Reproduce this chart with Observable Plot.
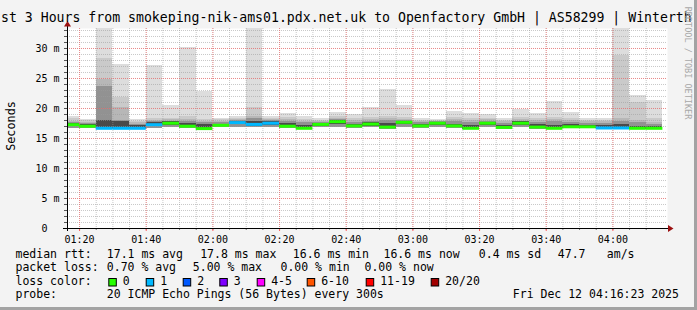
<!DOCTYPE html>
<html><head><meta charset="utf-8">
<script src="https://cdn.jsdelivr.net/npm/d3@7"></script>
<script src="https://cdn.jsdelivr.net/npm/@observablehq/plot@0.6"></script>
<style>
html,body{margin:0;padding:0;background:#f3f3f3;}
#chart{width:697px;height:310px;position:relative;overflow:hidden;background:#f3f3f3;}
</style></head><body><div id="chart"></div>
<script>
// ---------- data ----------
const binStarts = ["01:15","01:20","01:25","01:30","01:35","01:40","01:45","01:50","01:55",
  "02:00","02:05","02:10","02:15","02:20","02:25","02:30","02:35","02:40","02:45","02:50","02:55",
  "03:00","03:05","03:10","03:15","03:20","03:25","03:30","03:35","03:40","03:45","03:50","03:55",
  "04:00","04:05","04:10"];
const median = [17.3,17.05,16.7,16.7,16.7,17.3,17.55,17.05,16.65,17.2,17.65,17.35,17.55,17.05,16.7,17.35,17.8,17.1,
  17.4,16.9,17.7,17.1,17.55,17.1,16.7,17.55,16.85,17.55,16.9,16.7,16.95,16.95,16.75,16.75,16.7,16.7];
const lossCount = [0,0,1,1,1,1,0,0,0,0,1,1,1,0,0,0,0,0,0,0,0,0,0,0,0,0,0,0,0,0,0,0,1,1,0,0];
const pingMax = [18.7,18.2,35,27.3,18.2,27.2,20.5,30.1,22.9,18.4,18.6,35,18.7,19.1,18.7,18.3,19.3,19.0,
  20.1,23.2,20.5,18.4,18.2,19.5,19.1,19.0,18.4,19.8,19.2,21.2,19.3,18.3,18.3,35,22.2,21.3];
const ping19 = [18.3,18.0,28.3,21.9,17.9,18.4,18.4,18.6,18.2,18.1,18.3,20.1,18.4,18.5,18.2,18.0,18.6,18.4,
  18.5,18.7,18.5,18.0,18.0,18.5,18.4,18.4,18.0,18.5,18.4,18.5,18.4,18.0,18.0,28.9,21.0,18.3];
const ping18 = [17.9,17.7,24.8,20.1,17.6,18.0,18.1,18.2,17.9,17.8,18.1,18.6,18.2,18.1,17.9,17.8,18.3,18.0,
  18.1,18.3,18.2,17.8,17.9,18.2,18.0,18.1,17.8,18.2,18.0,18.1,18.0,17.8,17.8,18.3,18.0,17.6];
const ping16 = [17.7,17.5,23.6,18.0,17.4,17.8,17.9,17.9,17.6,17.6,17.95,18.3,18.0,17.8,17.6,17.6,18.1,17.7,
  17.8,18.0,18.0,17.6,17.8,17.9,17.7,17.9,17.5,17.9,17.7,17.8,17.6,17.5,17.5,17.9,17.6,17.3];
const coreHi = [17.5,17.3,18.0,17.9,17.1,17.6,17.75,17.5,17.3,17.4,17.85,17.8,17.8,17.5,17.2,17.5,17.95,17.4,
  17.6,17.5,17.85,17.35,17.7,17.4,17.2,17.7,17.2,17.75,17.3,17.2,17.3,17.2,17.2,17.3,17.0,17.0];
const coreLo = [16.95,16.85,16.6,16.6,16.6,16.95,17.2,16.85,16.55,16.95,17.3,17.0,17.15,16.8,16.55,17.05,17.4,16.85,
  17.05,16.7,17.3,16.85,17.1,16.85,16.55,17.1,16.6,17.1,16.65,16.55,16.7,16.7,16.6,16.6,16.55,16.55];
const pingMin = [16.65,16.65,16.5,16.5,16.5,16.7,16.8,16.65,16.5,16.75,16.8,16.75,16.8,16.6,16.5,16.75,16.85,16.65,
  16.75,16.55,16.8,16.65,16.75,16.65,16.5,16.75,16.5,16.75,16.55,16.5,16.6,16.6,16.5,16.5,16.5,16.5];

const rangeStart = "01:16:23", rangeEnd = "04:16:23";
const yTicks = [0,5,10,15,20,25,30];
const xTickLabels = ["01:20","01:40","02:00","02:20","02:40","03:00","03:20","03:40","04:00"];

const lossLabels = ["0","1","2","3","4-5","6-10","11-19","20/20"];
const lossColors = ["#26ff00","#00b8ff","#0059ff","#7e00ff","#ff00ff","#ff5500","#ff0000","#a10000"];
const rowMedian = ["median rtt:","17.1 ms avg","17.8 ms max","16.6 ms min","16.6 ms now","0.4 ms sd","47.7","am/s"];
const rowLoss = ["packet loss:","0.70 % avg","5.00 % max","0.00 % min","0.00 % now"];
const rowProbe = ["probe:","20 ICMP Echo Pings (56 Bytes) every 300s","Fri Dec 12 04:16:23 2025"];
const titleText = "st 3 Hours from smokeping-nik-ams01.pdx.net.uk to Openfactory GmbH | AS58299 | Winterth";
const yLabel = "Seconds";
const watermark = "RRDTOOL / TOBI OETIKER";

// ---------- build ----------
const toDate = s => { const p = s.split(":").map(Number); return new Date(Date.UTC(2025, 11, 12, p[0], p[1], p[2] || 0)); };
const binMs = 5 * 60 * 1000;
const bins = binStarts.map((s, i) => {
  const t = toDate(s);
  return {start: t, end: new Date(+t + binMs), med: median[i], loss: lossCount[i],
    max: pingMax[i], p19: ping19[i], p18: ping18[i], p16: ping16[i], cHi: coreHi[i], cLo: coreLo[i], min: pingMin[i]};
});
const lossColor = n => n === 0 ? lossColors[0] : n === 1 ? lossColors[1] : n === 2 ? lossColors[2] : n === 3 ? lossColors[3]
  : n <= 5 ? lossColors[4] : n <= 10 ? lossColors[5] : n <= 19 ? lossColors[6] : lossColors[7];

const xMinor = binStarts.slice(1).map(toDate);
const xMajor = xTickLabels.map(toDate);
const yMinor = d3.range(0, 34);
const fmt = d3.utcFormat("%H:%M");
const mono = "'DejaVu Sans Mono', monospace";

const layer = (y1, y2, fill) => Plot.rect(bins, {x1: "start", x2: "end", y1, y2, fill, clip: true, shapeRendering: "crispEdges"});

const chart = Plot.plot({
  width: 697, height: 310,
  marginLeft: 67, marginRight: 30, marginTop: 28, marginBottom: 82,
  x: {type: "utc", domain: [toDate(rangeStart), toDate(rangeEnd)], label: null},
  y: {domain: [0, 33.333], label: null},
  style: {background: "transparent", fontFamily: mono, fontSize: "10px", color: "#000", overflow: "visible"},
  marks: [
    Plot.frame({fill: "white", stroke: "none"}),
    layer("min", "max", "#dddddd"),
    layer("min", "p19", "#cacaca"),
    layer("min", "p18", "#b7b7b7"),
    layer("min", "p16", "#929292"),
    layer("cLo", "cHi", "#4a4a4a"),
    Plot.gridY(yMinor, {stroke: "#9a9a9a", strokeOpacity: 0.55, strokeDasharray: "1,1"}),
    Plot.gridX(xMinor, {stroke: "#9a9a9a", strokeOpacity: 0.55, strokeDasharray: "1,1"}),
    Plot.gridY(yTicks.slice(1), {stroke: "#ff5f5f", strokeOpacity: 0.6, strokeDasharray: "1,1"}),
    Plot.gridX(xMajor, {stroke: "#ff5f5f", strokeOpacity: 0.6, strokeDasharray: "1,1"}),
    Plot.ruleY(bins, {x1: "start", x2: "end", y: "med", stroke: d => lossColor(d.loss), strokeWidth: 3, clip: true}),
    Plot.axisY(yMinor, {tickSize: 3, tickFormat: () => "", stroke: "#555"}),
    Plot.axisY(yTicks.slice(1), {tickSize: 3, tickPadding: 5, tickFormat: d => d + " m", stroke: "#555", fontSize: 10, fill: "#000"}),
    Plot.axisY([0], {tickSize: 3, tickPadding: 17, tickFormat: d => String(d), stroke: "#555", fontSize: 10, fill: "#000"}),
    Plot.axisX(xMinor, {tickSize: 2, tickFormat: () => "", stroke: "#777"}),
    Plot.axisX(xMajor, {tickSize: 3, tickPadding: 4, tickFormat: fmt, stroke: "#ff5f5f", fontSize: 10, fill: "#000"})
  ]
});
document.getElementById("chart").appendChild(chart);

// ---------- overlays ----------
const svg = d3.select(chart);
const X = chart.scale("x"), Y = chart.scale("y");
const xl = X.range[0], xr = X.range[1], yb = Y.range[0], yt = Y.range[1];
const arrow = "#9b1010";
svg.append("line").attr("x1", xl - 4).attr("x2", xr + 2).attr("y1", yb + 0.5).attr("y2", yb + 0.5).attr("stroke", "#000");
svg.append("line").attr("x1", xl + 0.5).attr("x2", xl + 0.5).attr("y1", yb + 3).attr("y2", yt - 3).attr("stroke", "#000");
svg.append("path").attr("d", `M${xr + 1},${yb - 3}L${xr + 6.5},${yb + 0.5}L${xr + 1},${yb + 4}Z`).attr("fill", arrow);
svg.append("path").attr("d", `M${xl - 3},${yt - 1.5}L${xl + 0.5},${yt - 7}L${xl + 4},${yt - 1.5}Z`).attr("fill", arrow);

const txt = (x, y, s, size, extra = {}) => {
  const t = svg.append("text").attr("x", x).attr("y", y).text(s)
    .attr("font-family", mono).attr("font-size", size).attr("fill", extra.fill || "#000")
    .attr("text-anchor", extra.anchor || "start");
  if (extra.transform) t.attr("transform", extra.transform);
  return t;
};
// title
txt(1, 22, titleText, 13.2);
// y label
txt(0, 0, yLabel, 11.8, {transform: "translate(15,126) rotate(-90)", anchor: "middle"});
// watermark
txt(0, 0, watermark, 8.5, {transform: "translate(684.5,63) rotate(90)", anchor: "middle", fill: "#a8a8a8"});

// legend rows
const fs = 11.5;
const row1X = [15.5, 106.8, 200.2, 292.8, 383.5, 478.8, 557.8, 606.8];
rowMedian.forEach((s, i) => txt(row1X[i], 257.7, s, fs));
const row2X = [15.5, 106.8, 192.8, 280.5, 364.5];
rowLoss.forEach((s, i) => txt(row2X[i], 271.2, s, fs));
txt(15.5, 284.8, "loss color:", fs);
const sqX = [108.3, 145.7, 182.7, 219.3, 256.7, 306.7, 365.7, 430.7];
lossLabels.forEach((s, i) => {
  svg.append("rect").attr("x", sqX[i] + 0.5).attr("y", 278.5).attr("width", 7.5).attr("height", 7.5)
    .attr("fill", lossColors[i]).attr("stroke", "#000").attr("stroke-width", 1);
  txt(sqX[i] + 14.5, 284.8, s, fs);
});
const row4X = [15.5, 106.8, 512.8];
rowProbe.forEach((s, i) => txt(row4X[i], 298.4, s, fs));

// frame shading
svg.append("rect").attr("x", 694).attr("y", 0).attr("width", 3).attr("height", 310).attr("fill", "#a3a3a3");
svg.append("rect").attr("x", 0).attr("y", 307).attr("width", 697).attr("height", 3).attr("fill", "#a3a3a3");
</script>
</body></html>
